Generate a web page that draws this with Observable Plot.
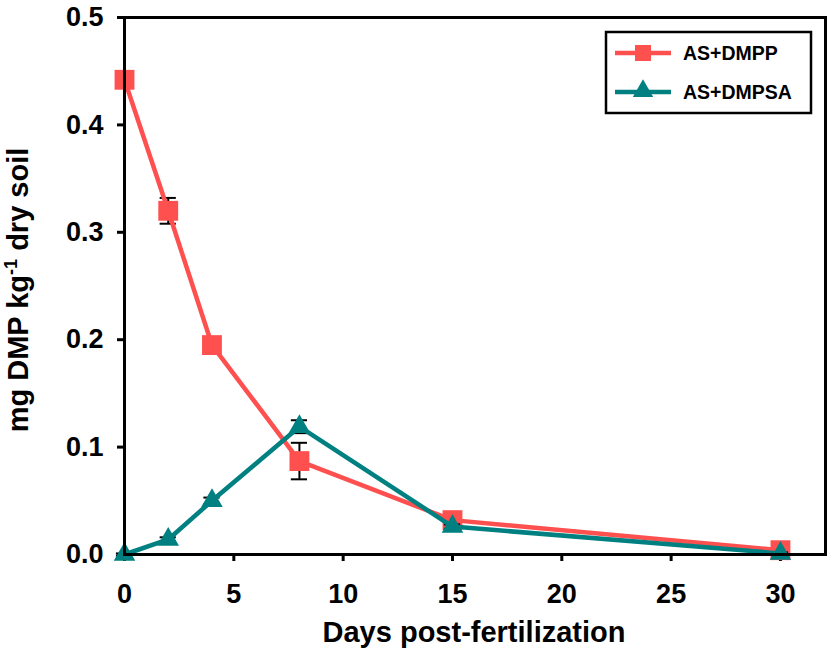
<!DOCTYPE html>
<html><head><meta charset="utf-8">
<script src="https://cdn.jsdelivr.net/npm/d3@7"></script>
<script src="https://cdn.jsdelivr.net/npm/@observablehq/plot@0.6"></script>
<style>
body{margin:0;background:#fff;}
#chart{position:relative;width:827px;height:653px;}
#chart svg{font-family:"Liberation Sans",Arial,sans-serif;font-weight:bold;}
</style>
</head><body><div id="chart"></div>
<script>
const days = [0, 2, 4, 8, 15, 30];
const dmpp = [0.442, 0.320, 0.195, 0.087, 0.032, 0.004];
const dmppErr = [0.002, 0.012, 0.003, 0.017, 0.002, 0.001];
const dmpsa = [0.000, 0.014, 0.050, 0.119, 0.026, 0.001];
const dmpsaErr = [0.001, 0.002, 0.003, 0.006, 0.002, 0.001];
const seriesNames = ["AS+DMPP", "AS+DMPSA"];
const seriesColors = ["#FF5050", "#008080"];
const xTicks = [0, 5, 10, 15, 20, 25, 30];
const yTicks = [0, 0.1, 0.2, 0.3, 0.4, 0.5];
const xLabel = "Days post-fertilization";

const rowsA = days.map((d, i) => ({day: d, v: dmpp[i], e: dmppErr[i]}));
const rowsB = days.map((d, i) => ({day: d, v: dmpsa[i], e: dmpsaErr[i]}));
const capHalf = 0.37;

function errMarks(rows) {
  return [
    Plot.ruleX(rows, {x: "day", y1: d => d.v - d.e, y2: d => d.v + d.e, stroke: "black", strokeWidth: 2}),
    Plot.ruleY(rows, {y: d => d.v - d.e, x1: d => d.day - capHalf, x2: d => d.day + capHalf, stroke: "black", strokeWidth: 2}),
    Plot.ruleY(rows, {y: d => d.v + d.e, x1: d => d.day - capHalf, x2: d => d.day + capHalf, stroke: "black", strokeWidth: 2})
  ];
}

const plot = Plot.plot({
  width: 827,
  height: 653,
  marginLeft: 124,
  marginRight: 2,
  marginTop: 17,
  marginBottom: 99,
  x: {domain: [0, 32.06]},
  y: {domain: [0, 0.5]},
  marks: [
    Plot.axisY({ticks: yTicks, tickFormat: d3.format(".1f"), tickSize: 7, tickPadding: 14, strokeWidth: 3, fontSize: 27, label: null}),
    Plot.axisX({ticks: xTicks, tickSize: 7, tickPadding: 22, strokeWidth: 3, fontSize: 27, label: null}),
    ...errMarks(rowsA),
    Plot.line(rowsA, {x: "day", y: "v", stroke: seriesColors[0], strokeWidth: 4.5}),
    Plot.dot(rowsA, {x: "day", y: "v", symbol: "square", r: 11.2, fill: seriesColors[0], stroke: "none"}),
    ...errMarks(rowsB),
    Plot.line(rowsB, {x: "day", y: "v", stroke: seriesColors[1], strokeWidth: 4.5}),
    Plot.dot(rowsB, {x: "day", y: "v", symbol: "triangle", r: 8, fill: seriesColors[1], stroke: "none"}),
    Plot.frame({stroke: "black", strokeWidth: 3})
  ]
});
document.getElementById("chart").appendChild(plot);

const svg = d3.select(plot);
svg.append("text")
  .attr("x", 474).attr("y", 642)
  .attr("text-anchor", "middle")
  .attr("font-size", 29).attr("font-weight", "bold").attr("fill", "black")
  .text(xLabel);

const yl = svg.append("text")
  .attr("transform", "translate(28,290) rotate(-90)")
  .attr("text-anchor", "middle")
  .attr("font-size", 29).attr("font-weight", "bold").attr("fill", "black");
yl.append("tspan").text("mg DMP kg");
yl.append("tspan").attr("font-size", 18).attr("dy", -11).text("-1");
yl.append("tspan").attr("dy", 11).text(" dry soil");

const lg = svg.append("g");
lg.append("rect").attr("x", 606).attr("y", 32).attr("width", 205).attr("height", 81)
  .attr("fill", "white").attr("stroke", "black").attr("stroke-width", 2.5);
seriesNames.forEach((name, i) => {
  const cy = 53 + i * 39;
  lg.append("line").attr("x1", 615).attr("x2", 671).attr("y1", cy).attr("y2", cy)
    .attr("stroke", seriesColors[i]).attr("stroke-width", 4.5);
  if (i === 0) {
    lg.append("path").attr("d", d3.symbol(d3.symbolSquare, 16 * 16)()).attr("transform", `translate(643,${cy})`).attr("fill", seriesColors[i]);
  } else {
    lg.append("path").attr("d", d3.symbol(d3.symbolTriangle, 180)()).attr("transform", `translate(643,${cy - 1})`).attr("fill", seriesColors[i]);
  }
  lg.append("text").attr("x", 683).attr("y", cy).attr("dy", "0.36em")
    .attr("text-anchor", "start")
    .attr("font-size", 19.5).attr("font-weight", "bold").attr("fill", "black").text(name);
});
</script>
</body></html>
